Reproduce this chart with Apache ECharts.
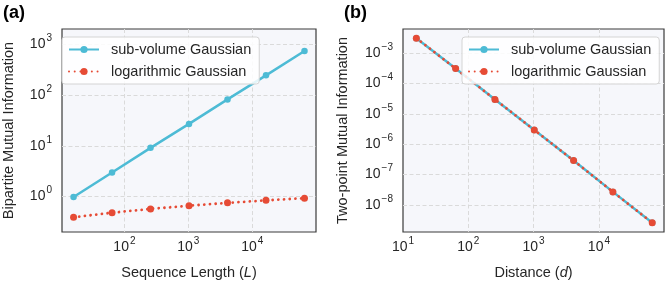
<!DOCTYPE html>
<html>
<head>
<meta charset="utf-8">
<script src="https://cdn.jsdelivr.net/npm/echarts@6/dist/echarts.min.js"></script>
<style>
html,body{margin:0;padding:0;background:#fff;}
#chart{width:668px;height:286px;}
</style>
</head>
<body>
<div id="chart"></div>
<script>
// ---- data ----
const seqLengths = [16, 64, 256, 1024, 4096, 16384, 65536];
const subVolumeBipartite = [0.98, 2.97, 9.1, 27, 82, 244, 735];
const logarithmicBipartite = [0.39, 0.48, 0.57, 0.66, 0.75, 0.84, 0.93];
const distances = [16, 64, 256, 1024, 4096, 16384, 65536];
const subVolumeTwoPoint = [3.1e-3, 3.1e-4, 3.0e-5, 2.95e-6, 2.9e-7, 2.7e-8, 2.6e-9];
const logarithmicTwoPoint = [3.1e-3, 3.1e-4, 3.0e-5, 2.95e-6, 2.9e-7, 2.7e-8, 2.6e-9];
const seriesNames = ['sub-volume Gaussian', 'logarithmic Gaussian'];
const xTickExpA = [2, 3, 4];
const yTickExpA = [0, 1, 2, 3];
const xTickExpB = [1, 2, 3, 4];
const yTickExpB = [-3, -4, -5, -6, -7, -8];

const BLUE = '#4DBBD5';
const RED = '#E64B35';
const TXT = '#262626';
const FONT = '"Liberation Sans", Arial, sans-serif';

function pow10Formatter(allowed) {
  return function (v) {
    const e = Math.round(Math.log10(v));
    if (Math.abs(Math.log10(v) - e) > 1e-6 || allowed.indexOf(e) < 0) return '';
    const s = e < 0 ? '\u2212' + (-e) : String(e);
    return '{b|10}{s|' + s + '}';
  };
}
const labelRich = {
  b: {fontSize: 14, lineHeight: 14, color: TXT, fontFamily: FONT, verticalAlign: 'bottom'},
  s: {fontSize: 10, lineHeight: 10, color: TXT, fontFamily: FONT, verticalAlign: 'bottom', padding: [0, 0, 8, 1]}
};
const splitLine = {show: true, showMinLine: false, showMaxLine: false,
  lineStyle: {color: '#dadada', width: 1, type: [4, 2.5]}};

function xAxis(grid, min, max, ticks, name) {
  return {
    type: 'log', gridIndex: grid, min: min, max: max, logBase: 10,
    axisLine: {show: false}, axisTick: {show: false}, splitLine: splitLine,
    axisLabel: {formatter: pow10Formatter(ticks), rich: labelRich, margin: 8},
    name: name, nameLocation: 'middle', nameGap: 33,
    nameTextStyle: {fontSize: 14.5, color: TXT, fontFamily: FONT,
      rich: {i: {fontStyle: 'italic', fontSize: 14.5, color: TXT, fontFamily: FONT}}}
  };
}
function yAxis(grid, min, max, ticks, name, gap) {
  return {
    type: 'log', gridIndex: grid, min: min, max: max, logBase: 10,
    axisLine: {show: false}, axisTick: {show: false}, splitLine: splitLine,
    axisLabel: {formatter: pow10Formatter(ticks), rich: labelRich, margin: 10},
    name: name, nameLocation: 'middle', nameGap: gap, nameRotate: 90,
    nameTextStyle: {fontSize: 14.5, color: TXT, fontFamily: FONT}
  };
}
function legend(left) {
  return {
    left: left, top: 37, orient: 'vertical',
    itemWidth: 30, itemHeight: 9, itemGap: 7,
    padding: [5, 8, 5, 6],
    backgroundColor: 'rgba(255,255,255,0.85)', borderColor: '#d4d4d4', borderWidth: 1, borderRadius: 3,
    textStyle: {fontSize: 14.5, color: TXT, fontFamily: FONT, padding: [0, 0, 0, 7]},
    data: seriesNames
  };
}
function pairs(xs, ys) { return xs.map((x, i) => [x, ys[i]]); }
function blueSeries(ax, data) {
  return {name: seriesNames[0], type: 'line', xAxisIndex: ax, yAxisIndex: ax, data: data,
    symbol: 'circle', symbolSize: 6.5, lineStyle: {color: BLUE, width: 2.5}, itemStyle: {color: BLUE}, z: 2};
}
function redSeries(ax, data) {
  return {name: seriesNames[1], type: 'line', xAxisIndex: ax, yAxisIndex: ax, data: data,
    symbol: 'circle', symbolSize: 7, lineStyle: {color: RED, width: 2.8, type: [0.01, 5.7], cap: 'round'},
    itemStyle: {color: RED}, z: 3};
}

const chart = echarts.init(document.getElementById('chart'), null, {renderer: 'canvas'});
chart.setOption({
  animation: false,
  textStyle: {fontFamily: FONT},
  grid: [
    {left: 55, top: 29, width: 261, height: 203, show: true, backgroundColor: '#f6f7fb', borderColor: '#3a3a3a', borderWidth: 1.2},
    {left: 403, top: 29, width: 261, height: 203, show: true, backgroundColor: '#f6f7fb', borderColor: '#3a3a3a', borderWidth: 1.2}
  ],
  xAxis: [
    xAxis(0, 10.55, 99220, xTickExpA, 'Sequence Length ({i|L})'),
    xAxis(1, 10, 99220, xTickExpB, 'Distance ({i|d})')
  ],
  yAxis: [
    yAxis(0, 0.2, 2000, yTickExpA, 'Bipartite Mutual Information', 46),
    yAxis(1, 1.29e-9, 6.24e-3, yTickExpB, 'Two-point Mutual Information', 53)
  ],
  legend: [legend(62), legend(462)],
  series: [
    blueSeries(0, pairs(seqLengths, subVolumeBipartite)),
    redSeries(0, pairs(seqLengths, logarithmicBipartite)),
    blueSeries(1, pairs(distances, subVolumeTwoPoint)),
    redSeries(1, pairs(distances, logarithmicTwoPoint))
  ],
  graphic: [
    {type: 'text', left: 3, top: 4, style: {text: '(a)', fontSize: 18, fontWeight: 'bold', fill: '#000', fontFamily: FONT}},
    {type: 'text', left: 344, top: 4, style: {text: '(b)', fontSize: 18, fontWeight: 'bold', fill: '#000', fontFamily: FONT}}
  ]
});
</script>
</body>
</html>
